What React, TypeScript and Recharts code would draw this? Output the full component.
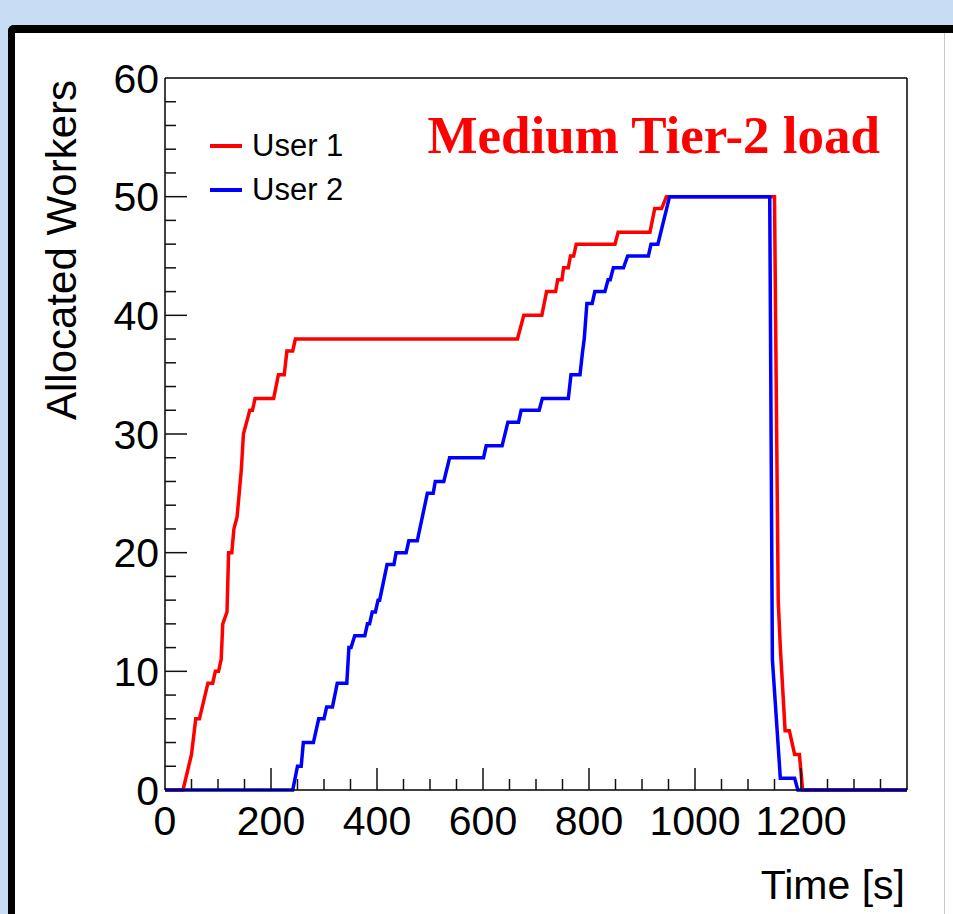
import React from "react";
import { LineChart, Line, XAxis, YAxis } from "recharts";

const user1Time = [
  0, 34, 50, 58, 65, 81, 90, 95, 101, 106, 109, 117, 120, 126, 130, 136, 144,
  148, 154, 160, 165, 170, 205, 214, 225, 230, 241, 246, 665, 677, 711, 720,
  737, 741, 749, 752, 761, 765, 771, 776, 849, 855, 915, 924, 937, 946, 1150,
  1157, 1161, 1170, 1178, 1188, 1197, 1203, 1400,
];
const user1Workers = [
  0, 0, 3, 6, 6, 9, 9, 10, 10, 11, 14, 15, 20, 20, 22, 23, 27, 30, 31, 32, 32,
  33, 33, 35, 35, 37, 37, 38, 38, 40, 40, 42, 42, 43, 43, 44, 44, 45, 45, 46,
  46, 47, 47, 49, 49, 50, 50, 16, 12, 5, 5, 3, 3, 0, 0,
];
const user2Time = [
  0, 241, 250, 257, 261, 280, 290, 300, 305, 316, 325, 343, 347, 351, 358, 377,
  382, 386, 391, 397, 402, 405, 419, 432, 436, 455, 460, 476, 495, 506, 510,
  526, 537, 601, 606, 636, 647, 667, 672, 706, 712, 761, 766, 783, 788, 791,
  796, 806, 811, 830, 836, 840, 846, 865, 873, 912, 917, 930, 952, 1141, 1146,
  1161, 1188, 1194, 1400,
];
const user2Workers = [
  0, 0, 2, 2, 4, 4, 6, 6, 7, 7, 9, 9, 12, 12, 13, 13, 14, 14, 15, 15, 16, 16,
  19, 19, 20, 20, 21, 21, 25, 25, 26, 26, 28, 28, 29, 29, 31, 31, 32, 32, 33,
  33, 35, 35, 37, 38, 41, 41, 42, 42, 43, 43, 44, 44, 45, 45, 46, 46, 50, 50,
  11, 1, 1, 0, 0,
];

const xTicks = [
  0, 50, 100, 150, 200, 250, 300, 350, 400, 450, 500, 550, 600, 650, 700, 750,
  800, 850, 900, 950, 1000, 1050, 1100, 1150, 1200, 1250, 1300, 1350, 1400,
];
const xLabels = [0, 200, 400, 600, 800, 1000, 1200];
const yTicks = [
  0, 2, 4, 6, 8, 10, 12, 14, 16, 18, 20, 22, 24, 26, 28, 30, 32, 34, 36, 38,
  40, 42, 44, 46, 48, 50, 52, 54, 56, 58, 60,
];
const yLabels = [0, 10, 20, 30, 40, 50, 60];

const series = [
  { name: "User 1", color: "#ff0000", time: user1Time, workers: user1Workers },
  { name: "User 2", color: "#0000ff", time: user2Time, workers: user2Workers },
];

const FONT = "'Liberation Sans', Arial, sans-serif";
const TICK = "#111";

const BottomTick = (props: any) => {
  const { x, y, payload } = props;
  const v = payload.value;
  const major = v % 200 === 0;
  return (
    <g>
      {v > 0 && v < 1400 && (
        <line x1={x} y1={y} x2={x} y2={y - (major ? 22 : 11)} stroke={TICK} strokeWidth={1.5} />
      )}
      {xLabels.includes(v) && (
        <text x={x} y={y + 45} textAnchor="middle" fontSize={41} fontFamily={FONT} fill="#000">
          {v}
        </text>
      )}
    </g>
  );
};

const TopTick = (props: any) => {
  const { x, y, payload } = props;
  const v = payload.value;
  if (v <= 0 || v >= 1400) return <g />;
  return <line x1={x} y1={y} x2={x} y2={y + (v % 200 === 0 ? 22 : 11)} stroke={TICK} strokeWidth={1.5} />;
};

const LeftTick = (props: any) => {
  const { x, y, payload } = props;
  const v = payload.value;
  const major = v % 10 === 0;
  return (
    <g>
      {v > 0 && v < 60 && (
        <line x1={x} y1={y} x2={x + (major ? 22 : 11)} y2={y} stroke={TICK} strokeWidth={1.5} />
      )}
      {yLabels.includes(v) && (
        <text x={x - 6} y={y} dy="0.36em" textAnchor="end" fontSize={41} fontFamily={FONT} fill="#000">
          {v}
        </text>
      )}
    </g>
  );
};

const RightTick = (props: any) => {
  const { x, y, payload } = props;
  const v = payload.value;
  if (v <= 0 || v >= 60) return <g />;
  return <line x1={x} y1={y} x2={x - (v % 10 === 0 ? 22 : 11)} y2={y} stroke={TICK} strokeWidth={1.5} />;
};

const YTitle = (props: any) => {
  const { x, y, width } = props.viewBox;
  const left = x + width;
  return (
    <text
      transform={`translate(${left - 89}, ${y + 2}) rotate(-90)`}
      textAnchor="end"
      fontSize={42}
      fontFamily={FONT}
      fill="#000"
    >
      Allocated Workers
    </text>
  );
};

const XTitle = (props: any) => {
  const { x, y, width } = props.viewBox;
  return (
    <text x={x + width - 2} y={y + 109} textAnchor="end" fontSize={41} fontFamily={FONT} fill="#000">
      Time [s]
    </text>
  );
};

const LegendBox = () => (
  <div style={{ position: "absolute", left: 210, top: 124, fontFamily: FONT }}>
    {series.map((s) => (
      <div key={s.name} style={{ display: "flex", alignItems: "center", height: 44 }}>
        <div style={{ width: 32, height: 4, background: s.color, marginRight: 10 }} />
        <span style={{ fontSize: 31, color: "#000", lineHeight: "44px" }}>{s.name}</span>
      </div>
    ))}
  </div>
);

export default function App() {
  return (
    <div
      style={{
        position: "absolute",
        left: 0,
        top: 0,
        width: 953,
        height: 914,
        background: "#c8dcf4",
        overflow: "hidden",
        fontFamily: FONT,
      }}
    >
      {/* slide frame */}
      <div
        style={{
          position: "absolute",
          left: 8,
          top: 25,
          width: 980,
          height: 920,
          background: "#fff",
          borderTop: "8px solid #000",
          borderLeft: "7px solid #000",
          borderTopLeftRadius: 6,
        }}
      />
      <div style={{ position: "absolute", left: 944, top: 33, width: 1, height: 881, background: "#c8c8c8" }} />

      <div style={{ position: "absolute", left: 0, top: 0 }}>
        <LineChart width={953} height={914} margin={{ top: 77, right: 45, bottom: 123, left: 164 }}>
          <XAxis
            xAxisId="bottom"
            dataKey="t"
            type="number"
            domain={[0, 1400]}
            ticks={xTicks}
            interval={0}
            height={1}
            tickSize={0}
            tickMargin={0}
            tickLine={false}
            tick={<BottomTick />}
            axisLine={{ stroke: "#000", strokeWidth: 1.5 }}
            label={<XTitle />}
          />
          <XAxis
            xAxisId="top"
            orientation="top"
            type="number"
            domain={[0, 1400]}
            ticks={xTicks}
            interval={0}
            height={1}
            tickSize={0}
            tickMargin={0}
            tickLine={false}
            tick={<TopTick />}
            axisLine={{ stroke: "#000", strokeWidth: 1.5 }}
          />
          <YAxis
            yAxisId="left"
            type="number"
            domain={[0, 60]}
            ticks={yTicks}
            interval={0}
            width={1}
            tickSize={0}
            tickMargin={0}
            tickLine={false}
            tick={<LeftTick />}
            axisLine={{ stroke: "#000", strokeWidth: 1.5 }}
            label={<YTitle />}
          />
          <YAxis
            yAxisId="right"
            orientation="right"
            type="number"
            domain={[0, 60]}
            ticks={yTicks}
            interval={0}
            width={1}
            tickSize={0}
            tickMargin={0}
            tickLine={false}
            tick={<RightTick />}
            axisLine={{ stroke: "#000", strokeWidth: 1.5 }}
          />
          {series.map((s) => (
            <Line
              key={s.name}
              xAxisId="bottom"
              yAxisId="left"
              data={s.time.map((t, i) => ({ t, v: s.workers[i] }))}
              dataKey="v"
              name={s.name}
              type="linear"
              stroke={s.color}
              strokeWidth={3.5}
              dot={false}
              activeDot={false}
              isAnimationActive={false}
            />
          ))}
        </LineChart>
      </div>

      <LegendBox />

      <div
        style={{
          position: "absolute",
          right: 73,
          top: 109,
          fontFamily: "'Liberation Serif', 'Times New Roman', serif",
          fontWeight: "bold",
          fontSize: 53,
          lineHeight: "53px",
          color: "#ff0000",
          whiteSpace: "nowrap",
        }}
      >
        Medium Tier-2 load
      </div>
    </div>
  );
}
